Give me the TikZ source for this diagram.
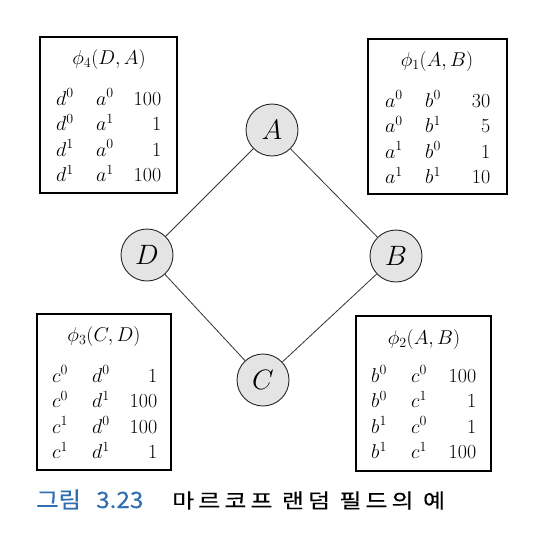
\RequirePackage{fix-cm}
\documentclass[tikz,border=0pt]{standalone}
\usepackage{fontspec}
\newfontfamily\krfont[FakeStretch=1.2,LetterSpace=20,FakeBold=0.3]{Noto Sans CJK KR}
\newfontfamily\krbluefont[FakeStretch=1.08,FakeBold=0.3]{Noto Sans CJK KR}
\definecolor{capblue}{RGB}{48,110,178}
\definecolor{nodegray}{RGB}{228,228,228}
\newcommand{\trow}[3]{\makebox[40pt][l]{$#1$}\makebox[35pt][l]{$#2$}\makebox[30pt][r]{#3}}
\begin{document}
\begin{tikzpicture}[x=1pt,y=-1pt,
  vnode/.style={circle,draw=black!85,line width=0.9pt,fill=nodegray,minimum size=52pt,inner sep=0pt,font=\fontsize{28}{30}\selectfont},
  edge/.style={draw=black!80,line width=0.8pt},
  tblbox/.style={draw=black,line width=1.1pt,inner sep=0pt},
  ttl/.style={anchor=base,inner sep=0pt,font=\fontsize{20}{25}\selectfont},
  rowtxt/.style={anchor=base west,inner sep=0pt,font=\fontsize{20}{25}\selectfont},
  captxt/.style={anchor=base west,inner sep=0pt,font=\krfont\fontsize{20}{24}\selectfont},
  capblue/.style={anchor=base west,inner sep=0pt,text=capblue,font=\krbluefont\fontsize{22.5}{24}\selectfont}]
\useasboundingbox (0,0) rectangle (538,560);
\fill[white] (0,0) rectangle (538,560);
% graph
\node[vnode] (A) at (272,130) {$A$};
\node[vnode] (D) at (147,255) {$D$};
\node[vnode] (B) at (396,256) {$B$};
\node[vnode] (C) at (263,380) {$C$};
\draw[edge] (A) -- (D);
\draw[edge] (A) -- (B);
\draw[edge] (D) -- (C);
\draw[edge] (B) -- (C);
% phi4
\node[tblbox,minimum width=137pt,minimum height=156pt] (f4) at (108.5,115) {};
\node[ttl] (f4t) at (109,64) {$\phi_4(D,A)$};
\node[rowtxt] (f4a) at (56,105) {\trow{d^0}{a^0}{100}};
\node[rowtxt] (f4b) at (56,130.5) {\trow{d^0}{a^1}{1}};
\node[rowtxt] (f4c) at (56,156) {\trow{d^1}{a^0}{1}};
\node[rowtxt] (f4d) at (56,181.5) {\trow{d^1}{a^1}{100}};
% phi1
\node[tblbox,minimum width=139pt,minimum height=155pt] (f1) at (437.5,116.5) {};
\node[ttl] (f1t) at (437,66) {$\phi_1(A,B)$};
\node[rowtxt] (f1a) at (385,107) {\trow{a^0}{b^0}{30}};
\node[rowtxt] (f1b) at (385,132.5) {\trow{a^0}{b^1}{5}};
\node[rowtxt] (f1c) at (385,158) {\trow{a^1}{b^0}{1}};
\node[rowtxt] (f1d) at (385,183.5) {\trow{a^1}{b^1}{10}};
% phi3
\node[tblbox,minimum width=134pt,minimum height=156pt] (f3) at (104,392) {};
\node[ttl] (f3t) at (104,341) {$\phi_3(C,D)$};
\node[rowtxt] (f3a) at (52,382) {\trow{c^0}{d^0}{1}};
\node[rowtxt] (f3b) at (52,407.5) {\trow{c^0}{d^1}{100}};
\node[rowtxt] (f3c) at (52,433) {\trow{c^1}{d^0}{100}};
\node[rowtxt] (f3d) at (52,458.5) {\trow{c^1}{d^1}{1}};
% phi2
\node[tblbox,minimum width=135pt,minimum height=155pt] (f2) at (423.5,393.5) {};
\node[ttl] (f2t) at (424,344) {$\phi_2(A,B)$};
\node[rowtxt] (f2a) at (371,382) {\trow{b^0}{c^0}{100}};
\node[rowtxt] (f2b) at (371,407.5) {\trow{b^0}{c^1}{1}};
\node[rowtxt] (f2c) at (371,433) {\trow{b^1}{c^0}{1}};
\node[rowtxt] (f2d) at (371,458.5) {\trow{b^1}{c^1}{100}};
% caption
\node[capblue] (capa) at (36,508) {그림};
\node[capblue] (capn) at (96,508) {3.23};
\node[captxt] (capb) at (172,508) {마르코프 랜덤 필드의 예};
\end{tikzpicture}
\end{document}
